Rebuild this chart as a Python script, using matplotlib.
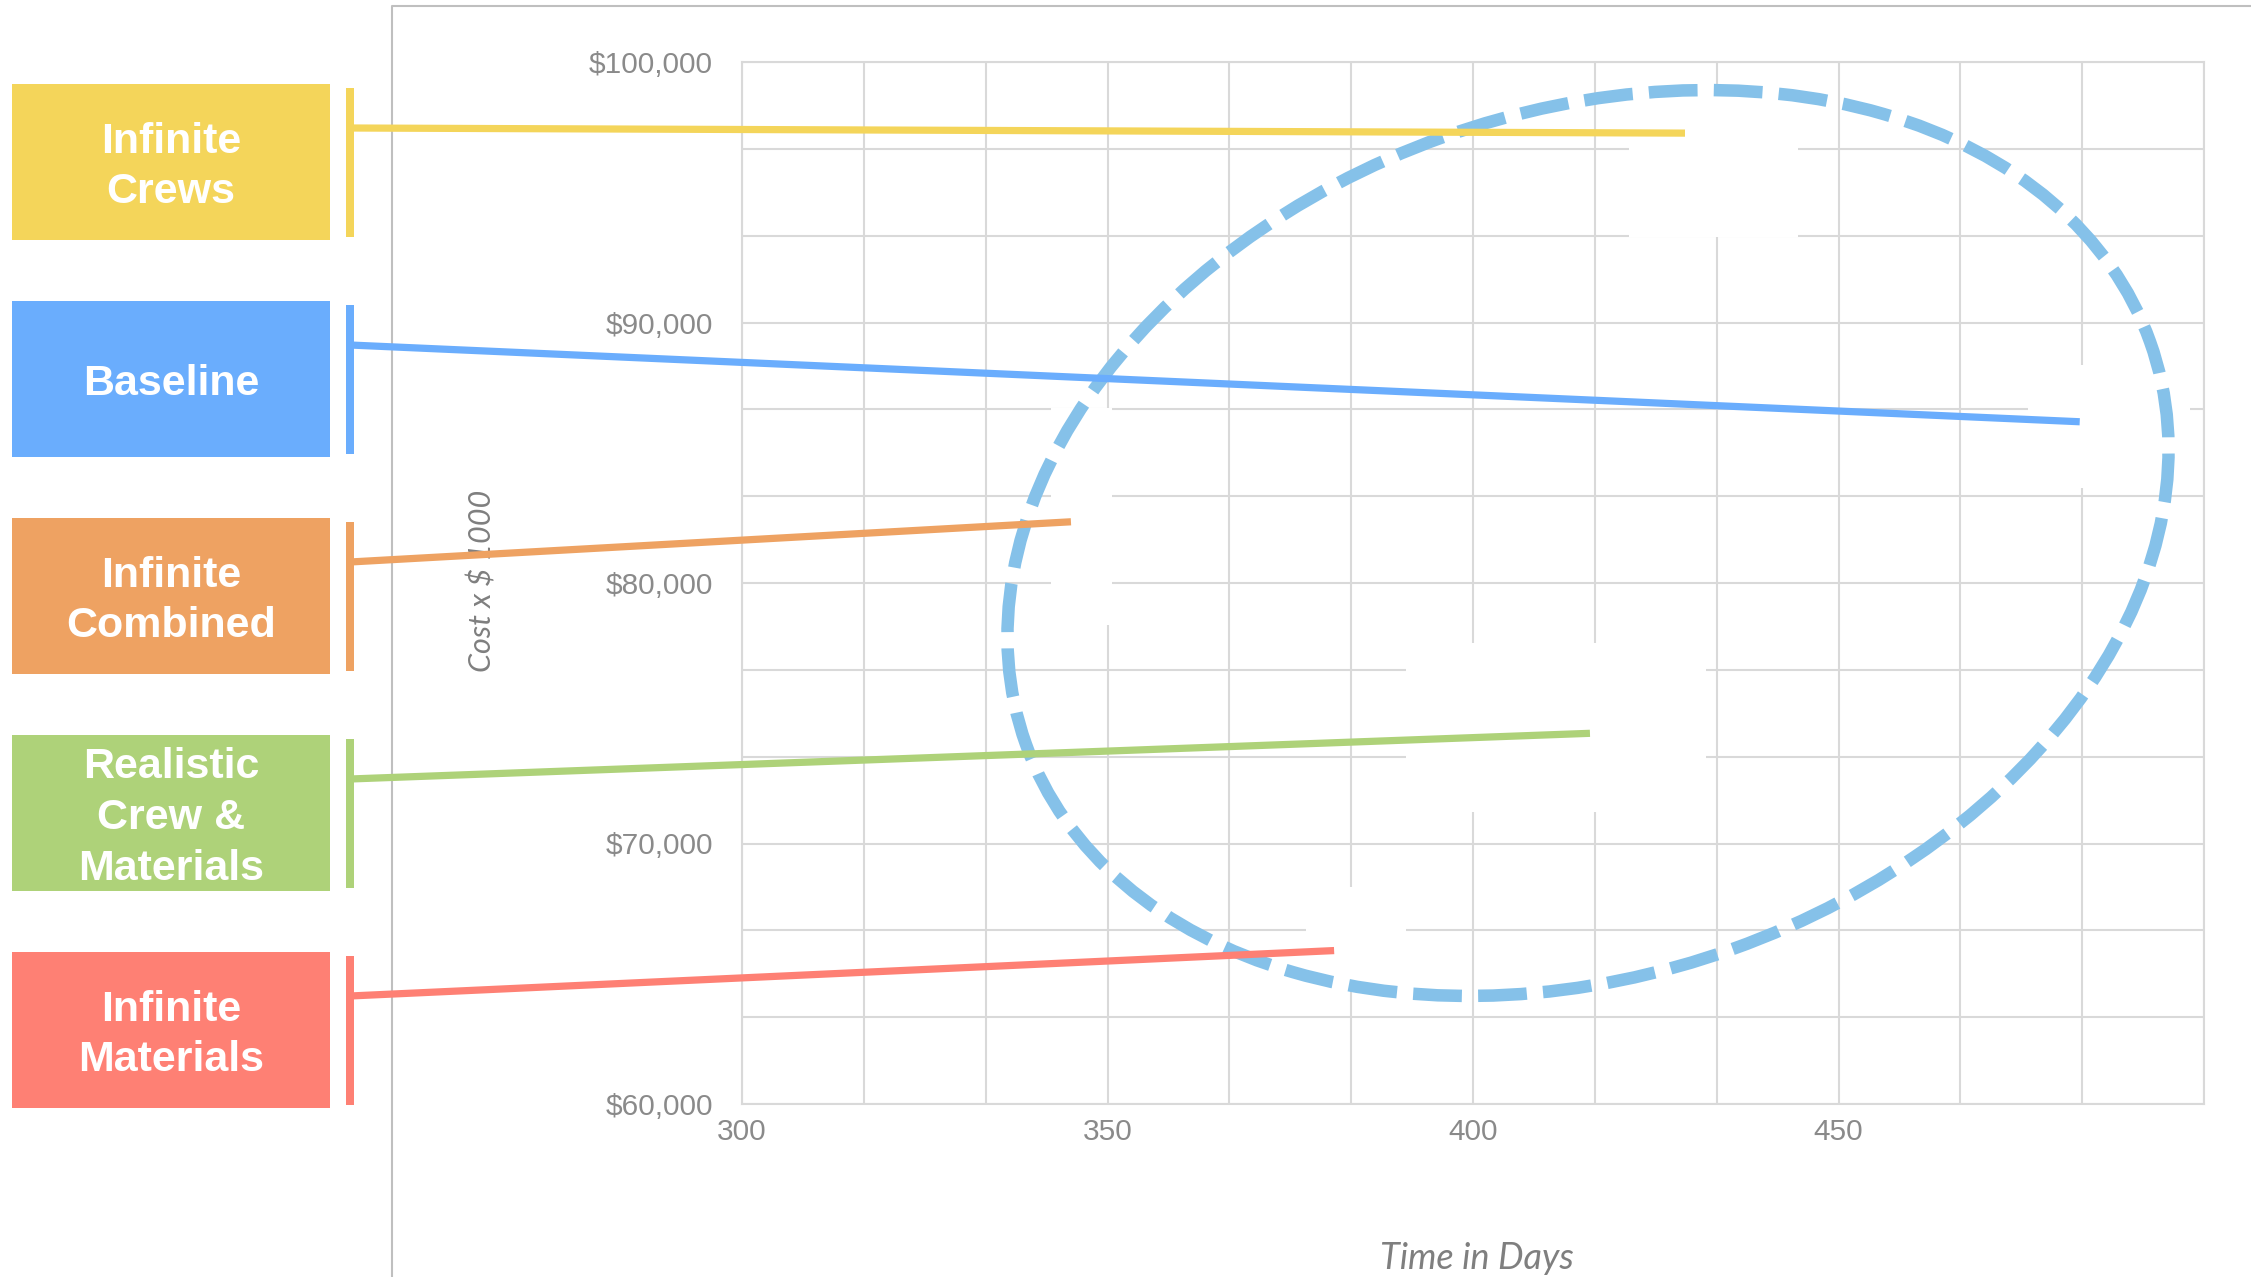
import matplotlib
matplotlib.use("Agg")
import matplotlib.pyplot as plt
from matplotlib.patches import Rectangle, Ellipse, ConnectionPatch
import numpy as np

# scenario data (time in days, cost in $)
scenarios = ["Infinite\nCrews", "Baseline", "Infinite\nCombined",
             "Realistic\nCrew &\nMaterials", "Infinite\nMaterials"]
days = [429, 483, 345, 416, 381]
cost = [97270, 86190, 82350, 74230, 65890]
colors = ["#F4D55A", "#6AADFD", "#EEA262", "#AED279", "#FE8074"]

x_ticks = [300, 350, 400, 450]
y_ticks = [60000, 70000, 80000, 90000, 100000]
y_labels = ["$60,000", "$70,000", "$80,000", "$90,000", "$100,000"]

W, H = 2251, 1277
fig = plt.figure(figsize=(W / 100, H / 100), dpi=100)
ax = fig.add_axes([742 / W, 1 - 1104 / H, 1462 / W, 1042 / H])

grid_c = "#D9D9D9"
ax.set_xlim(300, 500)
ax.set_ylim(60000, 100000)
ax.set_xticks(x_ticks)
ax.set_yticks(y_ticks)
ax.set_yticklabels(y_labels)
ax.set_xticks(np.linspace(300, 500, 13), minor=True)
ax.set_yticks(np.linspace(60000, 100000, 13), minor=True)
ax.tick_params(which="both", length=0)
ax.tick_params(axis="y", pad=21, labelsize=21.5, labelcolor="#8A8A8A")
ax.tick_params(axis="x", pad=10, labelsize=21.5, labelcolor="#8A8A8A")
for lab in ax.get_xticklabels() + ax.get_yticklabels():
    lab.set_fontfamily("Liberation Sans")
ax.set_axisbelow(True)
ax.grid(which="both", color=grid_c, lw=1.5)
for s in ax.spines.values():
    s.set_color(grid_c)
    s.set_linewidth(1.5)

ax.set_xlabel("Time in Days", fontsize=26, style="italic", color="#7F7F7F",
              family="Lato")
ax.xaxis.set_label_coords(0.503, -0.148)
ax.xaxis.label.set_va("center")
ax.set_ylabel("Cost x $ 1000", fontsize=22, style="italic", color="#7F7F7F",
              family="Lato")
ax.yaxis.set_label_coords(-0.178, 0.502)
ax.yaxis.label.set_va("center")

# blank label areas covering the grid
for (x0, y0, x1, y1) in [(1629, 87, 1798, 237), (2028, 365, 2190, 488),
                         (1051, 408, 1112, 625), (1406, 643, 1706, 812),
                         (1306, 887, 1406, 990)]:
    ax.add_patch(Rectangle((x0 / W, 1 - y1 / H), (x1 - x0) / W, (y1 - y0) / H,
                           transform=fig.transFigure, facecolor="white",
                           edgecolor="none", zorder=0.8))

# outer chart frame
fig.add_artist(plt.Line2D([392 / W, 392 / W, 1], [0, 1 - 6 / H, 1 - 6 / H],
                          color="#BFBFBF", lw=1.5, zorder=0.5))

# highlight ellipse
fig.add_artist(Ellipse((15.88, (H - 543) / 100), 11.94, 8.62, angle=19.7,
                       transform=fig.dpi_scale_trans, fill=False,
                       edgecolor="#85C1E9", lw=9,
                       linestyle=(0, (3.9, 1.3)), zorder=1))

# label boxes with leader lines
for i, (name, d, c, col) in enumerate(zip(scenarios, days, cost, colors)):
    top = 84 + 217 * i
    fig.add_artist(Rectangle((12 / W, 1 - (top + 156) / H), 318 / W, 156 / H,
                             transform=fig.transFigure, facecolor=col,
                             edgecolor="none", zorder=1))
    fig.text(171 / W, 1 - (top + 83) / H, name, ha="center", va="center",
             color="white", fontsize=31, fontweight="bold",
             family="Liberation Sans", linespacing=1.34, zorder=3)
    fig.add_artist(Rectangle((346 / W, 1 - (top + 153) / H), 8 / W, 149 / H,
                             transform=fig.transFigure, facecolor=col,
                             edgecolor="none", zorder=2))
    fig.add_artist(ConnectionPatch(xyA=(350 / W, 1 - (top + 44) / H),
                                   coordsA="figure fraction",
                                   xyB=(d, c), coordsB="data", axesB=ax,
                                   color=col, lw=5.2, capstyle="butt",
                                   zorder=2))

fig.savefig("out.png", dpi=100)
